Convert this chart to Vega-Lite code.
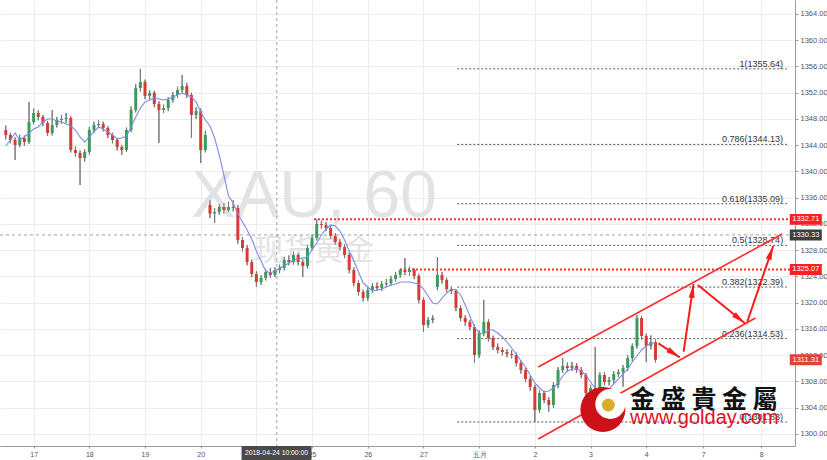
{
"$schema":"https://vega.github.io/schema/vega-lite/v6.json",
"width":795,"height":446,
"autosize":{"type":"none"},
"padding":{"left":0,"top":0,"right":32,"bottom":14},
"background":"#ffffff",
"config":{"view":{"stroke":null},"font":"Liberation Sans"},
"datasets":{
"candles":[
{"k":0,"o":1346.3,"h":1347.0,"l":1344.9,"c":1345.56,"m":1343.88},
{"k":1,"o":1345.56,"h":1345.9,"l":1344.3,"c":1344.80,"m":1344.80},
{"k":2,"o":1344.80,"h":1345.2,"l":1341.75,"c":1344.04,"m":1345.86},
{"k":3,"o":1344.04,"h":1345.6,"l":1343.7,"c":1345.10,"m":1344.80},
{"k":4,"o":1345.10,"h":1345.5,"l":1343.9,"c":1344.49,"m":1345.26},
{"k":5,"o":1344.49,"h":1350.59,"l":1344.2,"c":1347.54,"m":1345.86},
{"k":6,"o":1347.54,"h":1349.6,"l":1347.2,"c":1348.91,"m":1346.47},
{"k":7,"o":1348.91,"h":1349.3,"l":1347.8,"c":1348.30,"m":1346.78},
{"k":8,"o":1348.30,"h":1348.6,"l":1346.9,"c":1347.39,"m":1347.54},
{"k":9,"o":1347.39,"h":1347.7,"l":1345.4,"c":1345.86,"m":1348.00},
{"k":10,"o":1345.86,"h":1349.37,"l":1345.5,"c":1347.08,"m":1348.00},
{"k":11,"o":1347.08,"h":1348.3,"l":1346.7,"c":1347.84,"m":1347.69},
{"k":12,"o":1347.84,"h":1348.6,"l":1347.3,"c":1348.00,"m":1347.54},
{"k":13,"o":1348.00,"h":1348.9,"l":1347.4,"c":1348.15,"m":1347.24},
{"k":14,"o":1348.15,"h":1348.4,"l":1342.9,"c":1343.27,"m":1346.93},
{"k":15,"o":1343.27,"h":1343.8,"l":1342.3,"c":1342.82,"m":1346.32},
{"k":16,"o":1342.82,"h":1343.2,"l":1337.94,"c":1342.05,"m":1345.26},
{"k":17,"o":1342.05,"h":1343.4,"l":1341.5,"c":1342.97,"m":1344.49},
{"k":18,"o":1342.97,"h":1346.8,"l":1342.6,"c":1346.32,"m":1345.26},
{"k":19,"o":1346.32,"h":1347.6,"l":1345.9,"c":1347.08,"m":1346.02},
{"k":20,"o":1347.08,"h":1347.8,"l":1346.6,"c":1347.24,"m":1346.78},
{"k":21,"o":1347.24,"h":1347.6,"l":1346.1,"c":1346.63,"m":1346.47},
{"k":22,"o":1346.63,"h":1346.9,"l":1345.1,"c":1345.56,"m":1346.02},
{"k":23,"o":1345.56,"h":1345.9,"l":1344.3,"c":1344.80,"m":1345.56},
{"k":24,"o":1344.80,"h":1345.1,"l":1343.2,"c":1343.73,"m":1344.95},
{"k":25,"o":1343.73,"h":1344.0,"l":1342.51,"c":1343.27,"m":1345.10},
{"k":26,"o":1343.27,"h":1346.7,"l":1343.0,"c":1346.32,"m":1345.41},
{"k":27,"o":1346.32,"h":1349.9,"l":1346.0,"c":1349.37,"m":1346.78},
{"k":28,"o":1349.37,"h":1353.3,"l":1349.0,"c":1352.72,"m":1348.30},
{"k":29,"o":1352.72,"h":1355.64,"l":1352.2,"c":1353.64,"m":1349.67},
{"k":30,"o":1353.64,"h":1354.0,"l":1351.0,"c":1351.50,"m":1350.59},
{"k":31,"o":1351.50,"h":1352.4,"l":1350.9,"c":1352.0,"m":1350.89},
{"k":32,"o":1352.0,"h":1352.3,"l":1349.8,"c":1350.28,"m":1351.20},
{"k":33,"o":1350.28,"h":1350.7,"l":1344.34,"c":1349.37,"m":1351.04},
{"k":34,"o":1349.37,"h":1350.2,"l":1348.9,"c":1349.67,"m":1350.89},
{"k":35,"o":1349.67,"h":1351.3,"l":1349.2,"c":1350.89,"m":1351.04},
{"k":36,"o":1350.89,"h":1352.1,"l":1350.5,"c":1351.66,"m":1351.35},
{"k":37,"o":1351.66,"h":1352.9,"l":1351.2,"c":1352.42,"m":1351.66},
{"k":38,"o":1352.42,"h":1354.70,"l":1352.0,"c":1353.03,"m":1351.96},
{"k":39,"o":1353.03,"h":1353.5,"l":1351.2,"c":1351.66,"m":1351.66},
{"k":40,"o":1351.66,"h":1352.0,"l":1345.10,"c":1348.61,"m":1351.35},
{"k":41,"o":1348.61,"h":1349.8,"l":1348.0,"c":1349.2,"m":1350.59},
{"k":42,"o":1349.2,"h":1349.6,"l":1341.29,"c":1343.27,"m":1349.06},
{"k":43,"o":1343.27,"h":1346.2,"l":1342.9,"c":1345.56,"m":1347.84},
{"k":44,"o":1334.9,"h":1335.7,"l":1332.9,"c":1333.6,"m":1346.93},
{"k":45,"o":1333.6,"h":1334.4,"l":1332.15,"c":1333.83,"m":1345.10},
{"k":46,"o":1333.83,"h":1335.0,"l":1333.4,"c":1334.59,"m":1342.51},
{"k":47,"o":1334.59,"h":1335.2,"l":1333.6,"c":1334.13,"m":1339.46},
{"k":48,"o":1334.13,"h":1335.4,"l":1333.8,"c":1334.59,"m":1336.26},
{"k":49,"o":1334.59,"h":1335.6,"l":1333.9,"c":1334.44,"m":1335.20},
{"k":50,"o":1334.44,"h":1334.9,"l":1329.0,"c":1329.56,"m":1333.52},
{"k":51,"o":1329.56,"h":1330.0,"l":1327.8,"c":1328.34,"m":1332.30},
{"k":52,"o":1328.34,"h":1328.8,"l":1325.7,"c":1326.21,"m":1331.08},
{"k":53,"o":1326.21,"h":1326.6,"l":1323.9,"c":1324.38,"m":1329.71},
{"k":54,"o":1324.38,"h":1324.8,"l":1322.40,"c":1323.16,"m":1327.88},
{"k":55,"o":1323.16,"h":1324.2,"l":1322.7,"c":1323.77,"m":1326.36},
{"k":56,"o":1323.77,"h":1325.1,"l":1323.4,"c":1324.68,"m":1324.84},
{"k":57,"o":1324.68,"h":1325.3,"l":1323.8,"c":1324.23,"m":1324.53},
{"k":58,"o":1324.23,"h":1325.4,"l":1323.9,"c":1324.99,"m":1324.84},
{"k":59,"o":1324.99,"h":1325.8,"l":1324.5,"c":1325.29,"m":1325.29},
{"k":60,"o":1325.29,"h":1327.0,"l":1324.9,"c":1326.51,"m":1325.60},
{"k":61,"o":1326.51,"h":1327.2,"l":1325.7,"c":1326.21,"m":1326.06},
{"k":62,"o":1326.21,"h":1327.8,"l":1325.8,"c":1327.27,"m":1326.51},
{"k":63,"o":1327.27,"h":1327.6,"l":1325.7,"c":1326.21,"m":1326.67},
{"k":64,"o":1326.21,"h":1326.6,"l":1323.92,"c":1325.60,"m":1326.82},
{"k":65,"o":1325.60,"h":1328.8,"l":1325.2,"c":1328.34,"m":1326.97},
{"k":66,"o":1328.34,"h":1330.4,"l":1328.0,"c":1329.86,"m":1328.04},
{"k":67,"o":1329.86,"h":1332.71,"l":1329.5,"c":1332.00,"m":1329.10},
{"k":68,"o":1332.00,"h":1332.5,"l":1331.3,"c":1331.85,"m":1330.32},
{"k":69,"o":1331.85,"h":1332.3,"l":1330.9,"c":1331.39,"m":1331.24},
{"k":70,"o":1331.39,"h":1331.8,"l":1329.7,"c":1330.17,"m":1331.85},
{"k":71,"o":1330.17,"h":1330.6,"l":1328.8,"c":1329.25,"m":1331.69},
{"k":72,"o":1329.25,"h":1329.7,"l":1328.0,"c":1328.49,"m":1330.93},
{"k":73,"o":1328.49,"h":1328.9,"l":1326.8,"c":1327.27,"m":1329.56},
{"k":74,"o":1327.27,"h":1327.6,"l":1324.5,"c":1324.99,"m":1327.88},
{"k":75,"o":1324.99,"h":1325.4,"l":1322.5,"c":1323.01,"m":1326.36},
{"k":76,"o":1323.01,"h":1323.4,"l":1321.1,"c":1321.64,"m":1324.68},
{"k":77,"o":1321.64,"h":1322.0,"l":1320.2,"c":1320.72,"m":1323.01},
{"k":78,"o":1320.72,"h":1322.4,"l":1320.3,"c":1321.94,"m":1322.40},
{"k":79,"o":1321.94,"h":1323.0,"l":1321.5,"c":1322.55,"m":1321.79},
{"k":80,"o":1322.55,"h":1323.1,"l":1321.8,"c":1322.25,"m":1321.94},
{"k":81,"o":1322.25,"h":1323.3,"l":1321.8,"c":1322.85,"m":1322.09},
{"k":82,"o":1322.85,"h":1323.6,"l":1322.4,"c":1323.01,"m":1322.40},
{"k":83,"o":1323.01,"h":1324.1,"l":1322.6,"c":1323.62,"m":1322.70},
{"k":84,"o":1323.62,"h":1324.7,"l":1323.2,"c":1324.23,"m":1322.85},
{"k":85,"o":1324.23,"h":1325.07,"l":1323.8,"c":1324.99,"m":1323.16},
{"k":86,"o":1324.99,"h":1326.82,"l":1324.2,"c":1324.68,"m":1323.16},
{"k":87,"o":1324.68,"h":1325.5,"l":1324.1,"c":1324.99,"m":1323.16},
{"k":88,"o":1324.99,"h":1325.3,"l":1323.6,"c":1324.07,"m":1323.01},
{"k":89,"o":1324.07,"h":1324.4,"l":1319.9,"c":1320.42,"m":1322.85},
{"k":90,"o":1320.42,"h":1320.8,"l":1315.54,"c":1316.60,"m":1322.09},
{"k":91,"o":1316.60,"h":1317.8,"l":1316.2,"c":1317.37,"m":1321.03},
{"k":92,"o":1317.37,"h":1318.1,"l":1316.9,"c":1317.67,"m":1319.96},
{"k":93,"o":1322.4,"h":1326.97,"l":1321.9,"c":1324.23,"m":1319.81},
{"k":94,"o":1324.23,"h":1324.7,"l":1322.9,"c":1323.46,"m":1320.72},
{"k":95,"o":1323.46,"h":1323.8,"l":1321.6,"c":1322.09,"m":1321.48},
{"k":96,"o":1322.09,"h":1322.5,"l":1321.3,"c":1321.79,"m":1322.09},
{"k":97,"o":1321.79,"h":1322.1,"l":1318.7,"c":1319.20,"m":1321.94},
{"k":98,"o":1319.20,"h":1319.6,"l":1317.2,"c":1317.67,"m":1321.18},
{"k":99,"o":1317.67,"h":1318.1,"l":1316.5,"c":1317.06,"m":1319.65},
{"k":100,"o":1317.06,"h":1317.4,"l":1315.8,"c":1316.30,"m":1317.98},
{"k":101,"o":1316.30,"h":1316.7,"l":1310.82,"c":1312.04,"m":1316.30},
{"k":102,"o":1312.04,"h":1315.8,"l":1311.6,"c":1315.39,"m":1315.39},
{"k":103,"o":1315.39,"h":1320.42,"l":1314.9,"c":1317.06,"m":1315.24},
{"k":104,"o":1317.06,"h":1317.5,"l":1314.1,"c":1314.63,"m":1315.84},
{"k":105,"o":1314.63,"h":1315.0,"l":1312.8,"c":1313.25,"m":1315.84},
{"k":106,"o":1313.25,"h":1313.8,"l":1312.3,"c":1312.80,"m":1315.39},
{"k":107,"o":1312.80,"h":1313.2,"l":1312.0,"c":1312.49,"m":1314.78},
{"k":108,"o":1312.49,"h":1312.9,"l":1311.7,"c":1312.19,"m":1314.02},
{"k":109,"o":1312.19,"h":1312.8,"l":1311.5,"c":1312.04,"m":1313.10},
{"k":110,"o":1312.04,"h":1312.4,"l":1310.3,"c":1310.82,"m":1312.19},
{"k":111,"o":1310.82,"h":1311.2,"l":1309.2,"c":1309.75,"m":1311.12},
{"k":112,"o":1309.75,"h":1310.1,"l":1307.9,"c":1308.38,"m":1310.21},
{"k":113,"o":1308.38,"h":1308.8,"l":1306.6,"c":1307.16,"m":1308.99},
{"k":114,"o":1307.16,"h":1307.5,"l":1301.83,"c":1303.65,"m":1307.77},
{"k":115,"o":1303.65,"h":1306.7,"l":1303.2,"c":1306.24,"m":1307.01},
{"k":116,"o":1306.24,"h":1306.6,"l":1304.7,"c":1305.18,"m":1306.40},
{"k":117,"o":1305.18,"h":1305.6,"l":1303.4,"c":1304.42,"m":1306.55},
{"k":118,"o":1304.42,"h":1307.9,"l":1304.0,"c":1307.46,"m":1307.01},
{"k":119,"o":1307.46,"h":1310.2,"l":1307.0,"c":1309.75,"m":1307.77},
{"k":120,"o":1309.75,"h":1311.58,"l":1309.3,"c":1310.36,"m":1308.84},
{"k":121,"o":1310.36,"h":1310.9,"l":1309.5,"c":1310.05,"m":1309.60},
{"k":122,"o":1310.05,"h":1311.0,"l":1309.6,"c":1310.4,"m":1309.90},
{"k":123,"o":1310.4,"h":1310.8,"l":1309.3,"c":1309.75,"m":1309.90},
{"k":124,"o":1309.75,"h":1310.2,"l":1308.5,"c":1308.99,"m":1309.60},
{"k":125,"o":1308.99,"h":1309.3,"l":1305.7,"c":1306.24,"m":1308.99},
{"k":126,"o":1306.24,"h":1307.5,"l":1304.7,"c":1307.01,"m":1307.92},
{"k":127,"o":1307.01,"h":1313.25,"l":1305.9,"c":1306.40,"m":1307.01},
{"k":128,"o":1306.40,"h":1309.4,"l":1305.9,"c":1308.99,"m":1306.55},
{"k":129,"o":1308.99,"h":1309.4,"l":1307.4,"c":1307.92,"m":1306.24},
{"k":130,"o":1307.92,"h":1308.7,"l":1307.4,"c":1308.22,"m":1306.86},
{"k":131,"o":1308.22,"h":1309.6,"l":1307.7,"c":1309.14,"m":1307.62},
{"k":132,"o":1309.14,"h":1309.9,"l":1308.7,"c":1309.44,"m":1308.38},
{"k":133,"o":1309.44,"h":1310.5,"l":1307.2,"c":1310.05,"m":1309.14},
{"k":134,"o":1310.05,"h":1312.0,"l":1309.6,"c":1311.58,"m":1309.90},
{"k":135,"o":1311.58,"h":1313.8,"l":1311.1,"c":1313.4,"m":1310.97},
{"k":136,"o":1313.4,"h":1318.13,"l":1313.0,"c":1317.67,"m":1311.88},
{"k":137,"o":1317.67,"h":1318.0,"l":1314.4,"c":1314.93,"m":1312.80},
{"k":138,"o":1314.93,"h":1315.3,"l":1310.97,"c":1313.41,"m":1313.41},
{"k":139,"o":1313.41,"h":1315.02,"l":1312.9,"c":1314.02,"m":1313.86},
{"k":140,"o":1314.02,"h":1314.4,"l":1310.9,"c":1311.31,"m":1313.86}
],
"fib":[
{"p":1355.64,"label":"1(1355.64)"},
{"p":1344.13,"label":"0.786(1344.13)"},
{"p":1335.09,"label":"0.618(1335.09)"},
{"p":1328.74,"label":"0.5(1328.74)"},
{"p":1322.39,"label":"0.382(1322.39)"},
{"p":1314.53,"label":"0.236(1314.53)"},
{"p":1301.83,"label":"0(1301.83)"}
],
"reds":[{"p":1332.71,"k0":66.4},{"p":1325.07,"k0":84.94}],
"channel":[
{"id":"u","k":114.72,"v":1310.21},{"id":"u","k":167.28,"v":1330.47},
{"id":"d","k":114.72,"v":1299.24},{"id":"d","k":161.53,"v":1317.67}
],
"arrows":[
{"id":"a1","k":140.62,"v":1313.82},{"id":"a1","k":145.21,"v":1311.68},
{"id":"a2","k":146.06,"v":1312.54},{"id":"a2","k":148.19,"v":1322.85},
{"id":"a3","k":149.13,"v":1322.70},{"id":"a3","k":159.26,"v":1316.87},
{"id":"a4","k":159.77,"v":1317.11},{"id":"a4","k":165.36,"v":1328.64}
],
"boxes":[
{"p":1332.71,"t":"1332.71","g":"r"},
{"p":1330.33,"t":"1330.33","g":"d"},
{"p":1325.07,"t":"1325.07","g":"r"},
{"p":1311.31,"t":"1311.31","g":"s"}
]
},
"layer":[
{"data":{"name":"candles"},
 "mark":{"type":"rule","color":"#777777","strokeWidth":1},
 "encoding":{
  "x":{"field":"k","type":"quantitative","title":null,"scale":{"domain":[-0.17,168.98],"nice":false,"zero":false},
   "axis":{"orient":"bottom","title":null,"values":[6,18,30,42,54,66,78,90,102,114,126,138,150.26,162.8],"tickCount":30,
    "labelExpr":"datum.value < 12 ? '17' : datum.value < 24 ? '18' : datum.value < 36 ? '19' : datum.value < 48 ? '20' : datum.value < 60 ? '24' : datum.value < 72 ? '25' : datum.value < 84 ? '26' : datum.value < 96 ? '27' : datum.value < 108 ? '五月' : datum.value < 120 ? '2' : datum.value < 132 ? '3' : datum.value < 144 ? '4' : datum.value < 156 ? '7' : '8'",
    "grid":true,"gridColor":"#ececec","domainColor":"#9a9a9a","tickColor":"#9a9a9a","tickSize":2,"labelPadding":2,
    "labelFontSize":7,"labelColor":"#555555","labelFont":"Liberation Sans","labelOverlap":false,"labelFlush":false}},
  "y":{"field":"l","type":"quantitative","title":null,"scale":{"domain":[1298.17,1366.13],"nice":false,"zero":false},
   "axis":{"orient":"right","title":null,"values":[1300,1304,1308,1312,1316,1320,1324,1328,1332,1336,1340,1344,1348,1352,1356,1360,1364],"tickCount":30,
    "format":".2f","grid":true,"gridColor":"#ececec","domainColor":"#9a9a9a","tickColor":"#9a9a9a","tickSize":3,"labelPadding":2,
    "labelFontSize":7.5,"labelColor":"#555555","labelFont":"Liberation Sans","labelOverlap":false,"labelFlush":false}},
  "y2":{"field":"h"}}},
{"data":{"values":[{"k":66.43,"v":1333.06,"t":"XAU, 60"}]},
 "mark":{"type":"text","fontSize":66,"font":"Liberation Sans","color":"#e3e3e3","align":"center","baseline":"alphabetic"},
 "encoding":{"x":{"field":"k","type":"quantitative","title":null,"scale":{"domain":[-0.17,168.98],"nice":false,"zero":false}},
  "y":{"field":"v","type":"quantitative","title":null,"scale":{"domain":[1298.17,1366.13],"nice":false,"zero":false}},
  "text":{"field":"t"}}},
{"data":{"values":[{"k":66.43,"v":1326.5,"t":"现货黄金"}]},
 "mark":{"type":"text","fontSize":30,"font":"Noto Sans CJK SC","color":"#e3e3e3","align":"center","baseline":"alphabetic"},
 "encoding":{"x":{"field":"k","type":"quantitative","title":null,"scale":{"domain":[-0.17,168.98],"nice":false,"zero":false}},
  "y":{"field":"v","type":"quantitative","title":null,"scale":{"domain":[1298.17,1366.13],"nice":false,"zero":false}},
  "text":{"field":"t"}}},
{"data":{"values":[{}]},
 "mark":{"type":"rule","color":"#a0a0a0","strokeDash":[3,3],"strokeWidth":1},
 "encoding":{"x":{"datum":58.4,"type":"quantitative","title":null,"scale":{"domain":[-0.17,168.98],"nice":false,"zero":false}}}},
{"data":{"values":[{}]},
 "mark":{"type":"rule","color":"#a0a0a0","strokeDash":[3,3],"strokeWidth":1},
 "encoding":{"y":{"datum":1330.33,"type":"quantitative","title":null,"scale":{"domain":[1298.17,1366.13],"nice":false,"zero":false}}}},
{"data":{"name":"fib"},
 "mark":{"type":"rule","color":"#555555","strokeDash":[2,2],"strokeWidth":1},
 "encoding":{"x":{"datum":97.28,"type":"quantitative","title":null,"scale":{"domain":[-0.17,168.98],"nice":false,"zero":false}},
  "x2":{"datum":168.34},
  "y":{"field":"p","type":"quantitative","title":null,"scale":{"domain":[1298.17,1366.13],"nice":false,"zero":false}}}},
{"data":{"name":"reds"},
 "mark":{"type":"rule","color":"#ff2b2b","strokeDash":[2,2],"strokeWidth":2},
 "encoding":{"x":{"field":"k0","type":"quantitative","title":null,"scale":{"domain":[-0.17,168.98],"nice":false,"zero":false}},
  "x2":{"datum":168.98},
  "y":{"field":"p","type":"quantitative","title":null,"scale":{"domain":[1298.17,1366.13],"nice":false,"zero":false}}}},
{"data":{"name":"candles"},
 "mark":{"type":"rule","color":"#777777","strokeWidth":1},
 "encoding":{"x":{"field":"k","type":"quantitative","title":null,"scale":{"domain":[-0.17,168.98],"nice":false,"zero":false}},
  "y":{"field":"l","type":"quantitative","title":null,"scale":{"domain":[1298.17,1366.13],"nice":false,"zero":false}},
  "y2":{"field":"h"}}},
{"data":{"name":"candles"},
 "mark":{"type":"bar","size":3},
 "encoding":{"x":{"field":"k","type":"quantitative","title":null,"scale":{"domain":[-0.17,168.98],"nice":false,"zero":false}},
  "y":{"field":"o","type":"quantitative","title":null,"scale":{"domain":[1298.17,1366.13],"nice":false,"zero":false}},
  "y2":{"field":"c"},
  "color":{"condition":{"test":"datum.c >= datum.o","value":"#3c9a5f"},"value":"#d83a34"}}},
{"data":{"name":"candles"},
 "mark":{"type":"line","color":"#7d8be6","strokeWidth":1.1},
 "encoding":{"x":{"field":"k","type":"quantitative","title":null,"scale":{"domain":[-0.17,168.98],"nice":false,"zero":false}},
  "y":{"field":"m","type":"quantitative","title":null,"scale":{"domain":[1298.17,1366.13],"nice":false,"zero":false}}}},
{"data":{"name":"fib"},
 "mark":{"type":"text","fontSize":9,"font":"Liberation Sans","color":"#333333","align":"right","baseline":"alphabetic","dy":-2},
 "encoding":{"x":{"datum":167.5,"type":"quantitative","title":null,"scale":{"domain":[-0.17,168.98],"nice":false,"zero":false}},
  "y":{"field":"p","type":"quantitative","title":null,"scale":{"domain":[1298.17,1366.13],"nice":false,"zero":false}},
  "text":{"field":"label"}}},
{"data":{"name":"channel"},
 "mark":{"type":"line","color":"#ff2a2a","strokeWidth":1.6},
 "encoding":{"x":{"field":"k","type":"quantitative","title":null,"scale":{"domain":[-0.17,168.98],"nice":false,"zero":false}},
  "y":{"field":"v","type":"quantitative","title":null,"scale":{"domain":[1298.17,1366.13],"nice":false,"zero":false}},
  "detail":{"field":"id"}}},
{"data":{"name":"arrows"},
 "mark":{"type":"line","color":"#ff1a1a","strokeWidth":2},
 "encoding":{"x":{"field":"k","type":"quantitative","title":null,"scale":{"domain":[-0.17,168.98],"nice":false,"zero":false}},
  "y":{"field":"v","type":"quantitative","title":null,"scale":{"domain":[1298.17,1366.13],"nice":false,"zero":false}},
  "detail":{"field":"id"}}},
{"data":{"values":[{"k":145.21,"v":1311.68}]},
 "mark":{"type":"point","shape":"M0,0L0.42,2L-0.42,2Z","filled":true,"opacity":1,"color":"#ff1a1a","strokeWidth":0,"size":196,"angle":123},
 "encoding":{"x":{"field":"k","type":"quantitative","title":null,"scale":{"domain":[-0.17,168.98],"nice":false,"zero":false}},
  "y":{"field":"v","type":"quantitative","title":null,"scale":{"domain":[1298.17,1366.13],"nice":false,"zero":false}}}},
{"data":{"values":[{"k":148.19,"v":1322.85}]},
 "mark":{"type":"point","shape":"M0,0L0.42,2L-0.42,2Z","filled":true,"opacity":1,"color":"#ff1a1a","strokeWidth":0,"size":196,"angle":8},
 "encoding":{"x":{"field":"k","type":"quantitative","title":null,"scale":{"domain":[-0.17,168.98],"nice":false,"zero":false}},
  "y":{"field":"v","type":"quantitative","title":null,"scale":{"domain":[1298.17,1366.13],"nice":false,"zero":false}}}},
{"data":{"values":[{"k":159.26,"v":1316.87}]},
 "mark":{"type":"point","shape":"M0,0L0.42,2L-0.42,2Z","filled":true,"opacity":1,"color":"#ff1a1a","strokeWidth":0,"size":196,"angle":129},
 "encoding":{"x":{"field":"k","type":"quantitative","title":null,"scale":{"domain":[-0.17,168.98],"nice":false,"zero":false}},
  "y":{"field":"v","type":"quantitative","title":null,"scale":{"domain":[1298.17,1366.13],"nice":false,"zero":false}}}},
{"data":{"values":[{"k":165.36,"v":1328.64}]},
 "mark":{"type":"point","shape":"M0,0L0.42,2L-0.42,2Z","filled":true,"opacity":1,"color":"#ff1a1a","strokeWidth":0,"size":196,"angle":19},
 "encoding":{"x":{"field":"k","type":"quantitative","title":null,"scale":{"domain":[-0.17,168.98],"nice":false,"zero":false}},
  "y":{"field":"v","type":"quantitative","title":null,"scale":{"domain":[1298.17,1366.13],"nice":false,"zero":false}}}},
{"data":{"values":[{"k":128.66,"v":1303.73}]},
 "mark":{"type":"point","shape":"circle","filled":true,"opacity":1,"color":"#cc1118","strokeWidth":0,"size":2025},
 "encoding":{"x":{"field":"k","type":"quantitative","title":null,"scale":{"domain":[-0.17,168.98],"nice":false,"zero":false}},
  "y":{"field":"v","type":"quantitative","title":null,"scale":{"domain":[1298.17,1366.13],"nice":false,"zero":false}}}},
{"data":{"values":[{"k":130.26,"v":1304.57}]},
 "mark":{"type":"point","shape":"circle","filled":true,"opacity":1,"color":"#ffffff","strokeWidth":0,"size":900},
 "encoding":{"x":{"field":"k","type":"quantitative","title":null,"scale":{"domain":[-0.17,168.98],"nice":false,"zero":false}},
  "y":{"field":"v","type":"quantitative","title":null,"scale":{"domain":[1298.17,1366.13],"nice":false,"zero":false}}}},
{"data":{"values":[{"k":129.83,"v":1304.42}]},
 "mark":{"type":"point","shape":"circle","filled":true,"opacity":1,"color":"#d9ad2b","strokeWidth":0,"size":169},
 "encoding":{"x":{"field":"k","type":"quantitative","title":null,"scale":{"domain":[-0.17,168.98],"nice":false,"zero":false}},
  "y":{"field":"v","type":"quantitative","title":null,"scale":{"domain":[1298.17,1366.13],"nice":false,"zero":false}}}},
{"data":{"values":[{"k":134.51,"v":1303.96,"t":"金 盛 貴 金 屬"}]},
 "mark":{"type":"text","fontSize":25,"font":"Noto Sans CJK TC","fontWeight":"bold","color":"#111111","align":"left","baseline":"alphabetic"},
 "encoding":{"x":{"field":"k","type":"quantitative","title":null,"scale":{"domain":[-0.17,168.98],"nice":false,"zero":false}},
  "y":{"field":"v","type":"quantitative","title":null,"scale":{"domain":[1298.17,1366.13],"nice":false,"zero":false}},
  "text":{"field":"t"}}},
{"data":{"values":[{"k":134.51,"v":1301.52,"t":"www.golday.com"}]},
 "mark":{"type":"text","fontSize":20,"font":"Liberation Sans","color":"#e60f1e","align":"left","baseline":"alphabetic"},
 "encoding":{"x":{"field":"k","type":"quantitative","title":null,"scale":{"domain":[-0.17,168.98],"nice":false,"zero":false}},
  "y":{"field":"v","type":"quantitative","title":null,"scale":{"domain":[1298.17,1366.13],"nice":false,"zero":false}},
  "text":{"field":"t"}}},
{"data":{"name":"boxes"},
 "mark":{"type":"point","shape":"M-1,-0.34L1,-0.34L1,0.34L-1,0.34Z","filled":true,"opacity":1,"strokeWidth":0,"size":1024},
 "encoding":{"x":{"datum":172.38,"type":"quantitative","title":null,"scale":{"domain":[-0.17,168.98],"nice":false,"zero":false}},
  "y":{"field":"p","type":"quantitative","title":null,"scale":{"domain":[1298.17,1366.13],"nice":false,"zero":false}},
  "color":{"field":"g","type":"nominal","scale":{"domain":["r","d","s"],"range":["#ff1f1f","#3f3f3f","#dc4437"]},"legend":null}}},
{"data":{"name":"boxes"},
 "mark":{"type":"text","fontSize":7.5,"font":"Liberation Sans","color":"#ffffff","align":"center","baseline":"middle"},
 "encoding":{"x":{"datum":172.38,"type":"quantitative","title":null,"scale":{"domain":[-0.17,168.98],"nice":false,"zero":false}},
  "y":{"field":"p","type":"quantitative","title":null,"scale":{"domain":[1298.17,1366.13],"nice":false,"zero":false}},
  "text":{"field":"t"}}},
{"data":{"values":[{"k":58.34,"v":1297.1,"t":"2018-04-24 10:00:00"}]},
 "mark":{"type":"point","shape":"M-1,-0.2L1,-0.2L1,0.2L-1,0.2Z","filled":true,"opacity":1,"color":"#4a4a4a","strokeWidth":0,"size":4900},
 "encoding":{"x":{"field":"k","type":"quantitative","title":null,"scale":{"domain":[-0.17,168.98],"nice":false,"zero":false}},
  "y":{"field":"v","type":"quantitative","title":null,"scale":{"domain":[1298.17,1366.13],"nice":false,"zero":false}}}},
{"data":{"values":[{"k":58.34,"v":1297.1,"t":"2018-04-24 10:00:00"}]},
 "mark":{"type":"text","fontSize":6.8,"font":"Liberation Sans","color":"#ffffff","align":"center","baseline":"middle"},
 "encoding":{"x":{"field":"k","type":"quantitative","title":null,"scale":{"domain":[-0.17,168.98],"nice":false,"zero":false}},
  "y":{"field":"v","type":"quantitative","title":null,"scale":{"domain":[1298.17,1366.13],"nice":false,"zero":false}},
  "text":{"field":"t"}}}
]
}
